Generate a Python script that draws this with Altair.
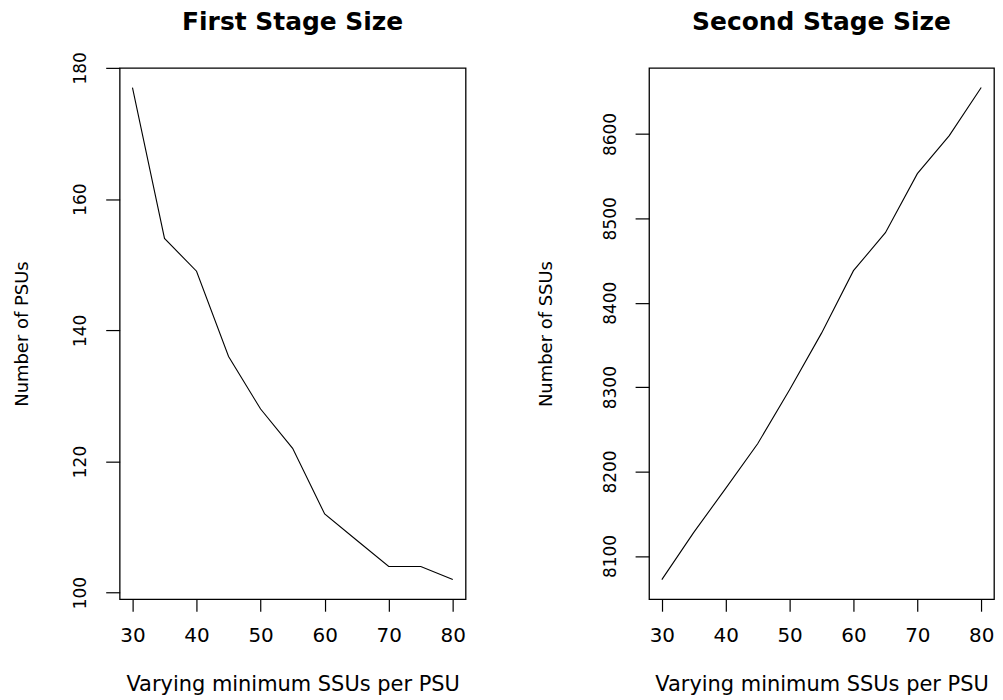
import altair as alt
import pandas as pd

min_ssus = [30, 35, 40, 45, 50, 55, 60, 65, 70, 75, 80]
psus = [177, 154, 149, 136, 128, 122, 112, 108, 104, 104, 102]
ssus = [8072, 8128, 8180, 8233, 8297, 8364, 8438, 8483, 8553, 8598, 8655]

x_ticks = [30, 40, 50, 60, 70, 80]
psu_ticks = [100, 120, 140, 160, 180]
ssu_ticks = [8100, 8200, 8300, 8400, 8500, 8600]

df = pd.DataFrame({"x": min_ssus, "psu": psus, "ssu": ssus})

FONT = "DejaVu Sans"


def x_axis():
    return alt.Axis(values=x_ticks, title="Varying minimum SSUs per PSU",
                    labelAngle=0, labelFontSize=20, titleFontSize=21,
                    tickSize=12, labelPadding=14, titlePadding=29)


def y_axis(vals, title, tpad):
    return alt.Axis(values=vals, title=title, labelAngle=270,
                    labelFontSize=17, titleFontSize=18, tickSize=14,
                    labelPadding=16, titlePadding=tpad, format="d")


def title(t, off):
    return alt.TitleParams(t, fontSize=25, font=FONT, fontWeight="bold",
                           anchor="middle", offset=off, color="black", frame="group")


left = alt.Chart(df).mark_line(color="black", strokeWidth=1.1).encode(
    x=alt.X("x:Q", scale=alt.Scale(domain=[28, 82], nice=False, zero=False), axis=x_axis()),
    y=alt.Y("psu:Q", scale=alt.Scale(domain=[99, 180], nice=False, zero=False),
            axis=y_axis(psu_ticks, "Number of PSUs", 40)),
).properties(width=347, height=533, title=title("First Stage Size", 17))

right = alt.Chart(df).mark_line(color="black", strokeWidth=1.1).encode(
    x=alt.X("x:Q", scale=alt.Scale(domain=[28, 82], nice=False, zero=False), axis=x_axis()),
    y=alt.Y("ssu:Q", scale=alt.Scale(domain=[8048.7, 8678.3], nice=False, zero=False),
            axis=y_axis(ssu_ticks, "Number of SSUs", 46)),
).properties(width=346, height=533, title=title("Second Stage Size", 33))

chart = alt.hconcat(left, right, spacing=70).properties(
    padding={"left": 5, "top": 0, "right": 0, "bottom": 0},
    background="white",
).configure_view(
    stroke="black", strokeWidth=1.3
).configure_axis(
    domain=False, grid=False, tickColor="black", tickWidth=1.2,
    labelFont=FONT, titleFont=FONT, labelColor="black", titleColor="black",
    titleFontWeight="normal"
)

chart.save("out.html", embed_options={"renderer": "svg", "actions": False})
